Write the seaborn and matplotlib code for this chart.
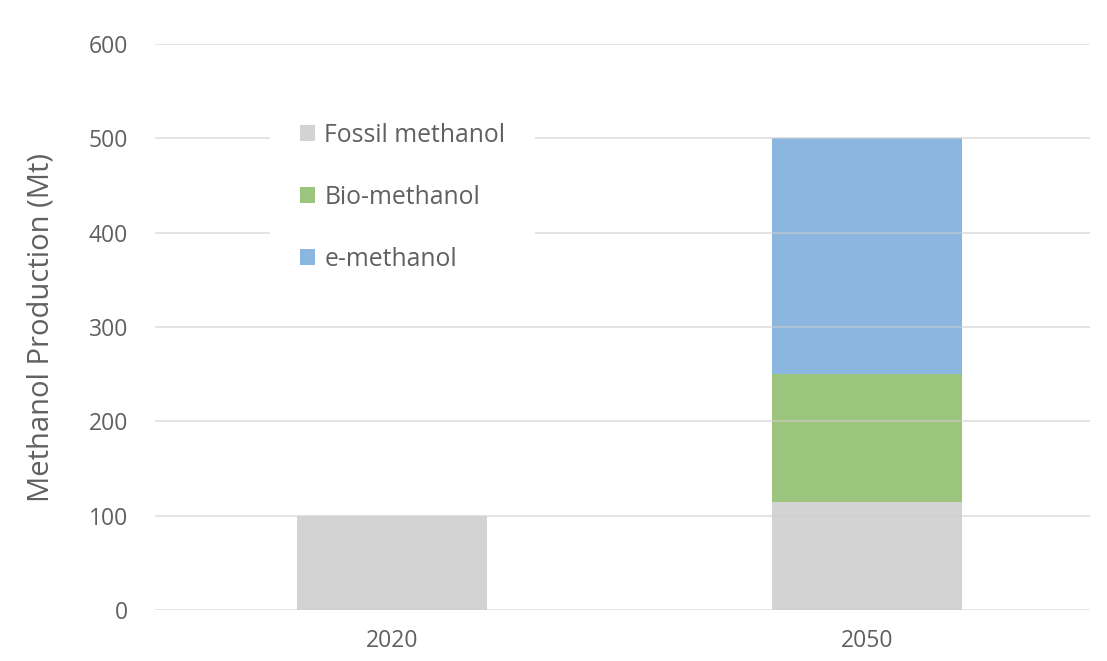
import matplotlib
matplotlib.use("Agg")
import matplotlib.pyplot as plt
import seaborn as sns
import pandas as pd
from matplotlib.patches import Patch

years = ["2020", "2050"]
fossil = [100, 115]
bio = [0, 135]
emeth = [0, 250]
series_names = ["Fossil methanol", "Bio-methanol", "e-methanol"]
colors = ["#d3d3d3", "#9bc47c", "#8ab6e0"]

sns.set_theme(style="white")
plt.rcParams['font.family'] = ['Open Sans', 'DejaVu Sans']
text_color = "#606060"

fig = plt.figure(figsize=(11.07, 6.61), dpi=100)
ax = fig.add_axes([155/1107, 1 - 610/661, (1090 - 155)/1107, (610 - 44)/661])

# stacked via layered cumulative totals
top_bio = [f + b for f, b in zip(fossil, bio)]
top_all = [t + e for t, e in zip(top_bio, emeth)]
layers = [(top_all, colors[2]), (top_bio, colors[1]), (fossil, colors[0])]
for vals, c in layers:
    df = pd.DataFrame({"year": years, "val": vals})
    sns.barplot(data=df, x="year", y="val", color=c, saturation=1, width=0.4,
                ax=ax, zorder=2, edgecolor="none", linewidth=0)

ax.set_ylim(0, 600)
ax.set_xlim(-0.5, 1.47)
ax.set_yticks(range(0, 601, 100))
ax.yaxis.grid(True, color="#cfcfcf", linewidth=1.3, alpha=0.6, zorder=3)
ax.set_axisbelow(False)
for s in ax.spines.values():
    s.set_visible(False)
ax.tick_params(axis="both", length=0, labelsize=16.5, colors=text_color)
ax.tick_params(axis="y", pad=19.5)
ax.tick_params(axis="x", pad=14)
ax.set_xlabel("")
ax.set_ylabel("Methanol Production (Mt)", fontsize=21, color=text_color, labelpad=24)

handles = [Patch(facecolor=c, edgecolor="none") for c in colors]
leg = ax.legend(handles, series_names, loc="upper left",
                bbox_to_anchor=((270 - 155) / 935, (610 - 93) / 566),
                frameon=True, fancybox=False, framealpha=1, edgecolor="none",
                facecolor="white", fontsize=17.8, labelspacing=1.5,
                handlelength=0.6, handleheight=0.6, handletextpad=0.4,
                borderpad=1.2, borderaxespad=0)
leg.set_zorder(5)
for t in leg.get_texts():
    t.set_color(text_color)

fig.savefig("out.png", dpi=100)
